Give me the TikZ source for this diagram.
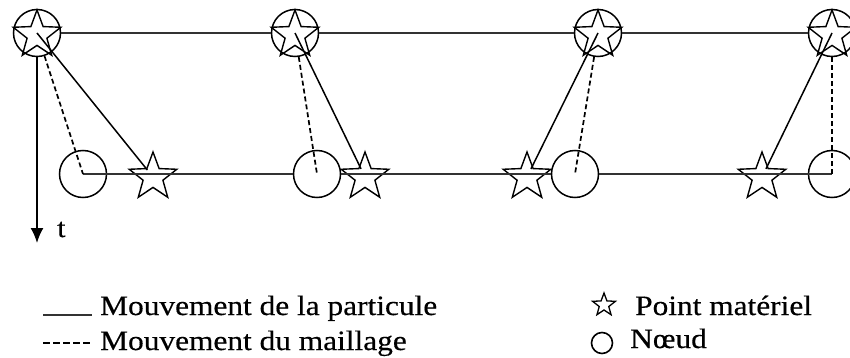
\documentclass[tikz,border=0pt]{standalone}
\usepackage{fontspec}
\setmainfont{Liberation Serif}
\newfontfamily\legfont[FakeStretch=1.12,FakeBold=0.4]{Liberation Serif}
\usetikzlibrary{shapes.geometric,arrows.meta}

\begin{document}
\begin{tikzpicture}[x=1pt,y=-1pt,
  ring/.style={circle,draw,line width=1.5pt,inner sep=0pt,minimum size=#1},
  starmark/.style={star,star points=5,star point ratio=2.4,draw,line width=1.4pt,inner sep=0pt,minimum size=#1},
  track/.style={line width=2.6pt,black!80},
  particle/.style={line width=1.5pt},
  mesh/.style={line width=1.7pt,dash pattern=on 5pt off 3pt},
  legtext/.style={anchor=base west,inner sep=0pt,font=\legfont\fontsize{28}{30}\selectfont}
]
\useasboundingbox (0,0) rectangle (850,358);

% nodes at the first time level (mesh node and material point coincide)
\foreach \i/\x in {1/37,2/295,3/598,4/832}{
  \node[ring=47pt] (tc\i) at (\x,33) {};
  \node[starmark=50pt] (ts\i) at (\x,35) {};
}
% mesh nodes and material points at the second time level
\foreach \i/\x in {1/83,2/317,3/575,4/832}
  \node[ring=47pt] (bc\i) at (\x,174) {};
\foreach \i/\x in {1/153,2/365,3/527,4/762}
  \node[starmark=50pt] (bs\i) at (\x,177) {};

% time levels
\draw[track] (tc1) -- (tc2) -- (tc3) -- (tc4);
\draw[track] (bc1.center) -- (bc2) -- (bc3) -- (bc4.center);

% particle motion and mesh motion
\foreach \i in {1,2,3,4}{
  \draw[particle,shorten >=9pt] (tc\i.center) -- (bs\i.center);
  \draw[mesh] (tc\i) -- (bc\i.center);
}

% time axis
\coordinate (tend) at (37,243);
\draw[line width=1.7pt,-{Latex[length=15pt,width=13pt]}] (tc1) -- (tend);
\node[anchor=base west,inner sep=0pt,font=\legfont\fontsize{27}{30}\selectfont] (tlab) at (57,237) {t};

% legend
\coordinate (la1) at (43,315);
\coordinate (la2) at (92,315);
\coordinate (lb1) at (43,343);
\coordinate (lb2) at (92,343);
\draw[line width=1.8pt,black!80] (la1) -- (la2);
\draw[line width=2pt,dash pattern=on 7pt off 3pt] (lb1) -- (lb2);
\node[legtext] (l1) at (100,315) {Mouvement de la particule};
\node[legtext] (l2) at (100,350) {Mouvement du maillage};

\node[starmark=24pt,line width=1.3pt] (lstar) at (604,305) {};
\node[ring=21pt,line width=1.6pt] (lring) at (602,343) {};
\node[legtext] (l3) at (635,315) {Point matériel};
\node[legtext] (l4) at (630,348) {Nœud};
\end{tikzpicture}
\end{document}
